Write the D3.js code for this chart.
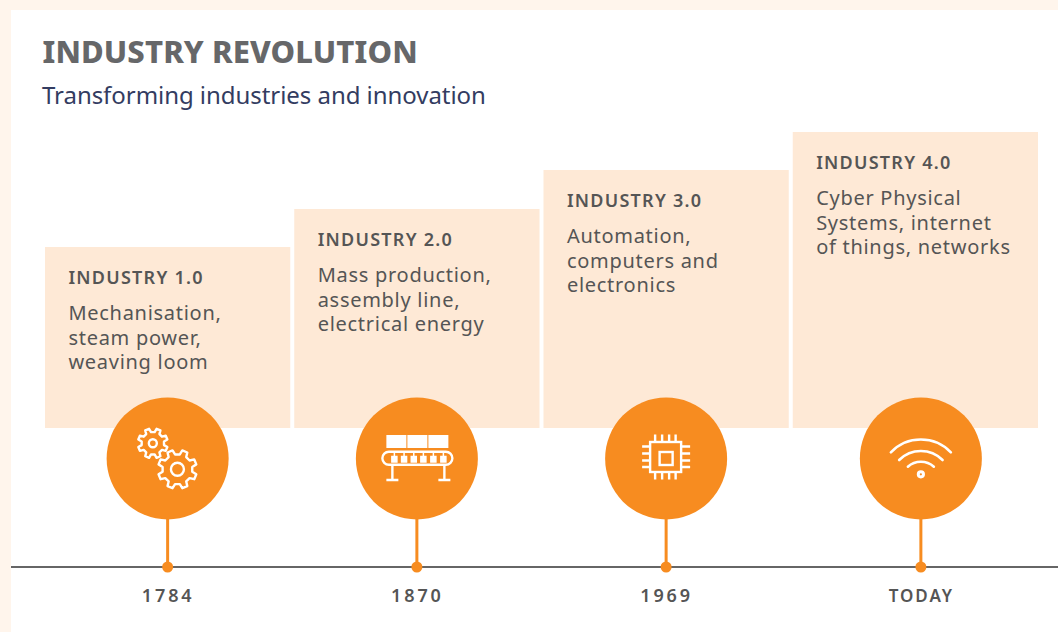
<!DOCTYPE html>
<html>
<head>
<meta charset="utf-8">
<script src="https://cdn.jsdelivr.net/npm/d3@7"></script>
<style>
  html, body { margin: 0; padding: 0; background: #fff5ec; overflow: hidden; }
  text { font-family: "Noto Sans", sans-serif; }
</style>
</head>
<body>
<div id="chart"></div>
<script>
// chart values
let eras = ["INDUSTRY 1.0", "INDUSTRY 2.0", "INDUSTRY 3.0", "INDUSTRY 4.0"];
let dates = ["1784", "1870", "1969", "TODAY"];
let levels = [181, 219, 258, 296];
let descriptions = [
  ["Mechanisation,", "steam power,", "weaving loom"],
  ["Mass production,", "assembly line,", "electrical energy"],
  ["Automation,", "computers and", "electronics"],
  ["Cyber Physical", "Systems, internet", "of things, networks"]
];

let orange = "#f78c20";
let textGrey = "#555555";
let width = 1058, height = 632;
let circleY = 458.5, axisY = 567, circleR = 61;

let svg = d3.select("#chart").append("svg")
  .attr("width", width)
  .attr("height", height)
  .style("display", "block");

svg.append("rect").attr("x", 11).attr("y", 10)
  .attr("width", width - 11).attr("height", height - 10).attr("fill", "#fff");

svg.append("text").attr("x", 42.5).attr("y", 63)
  .attr("font-size", 31).attr("font-weight", 800).attr("letter-spacing", 0.1).attr("fill", "#666769")
  .text("INDUSTRY REVOLUTION");
svg.append("text").attr("x", 42).attr("y", 104)
  .attr("font-size", 24).attr("letter-spacing", -0.05).attr("fill", "#333c61")
  .text("Transforming industries and innovation");

// Add scales
let x = d3.scaleBand().domain(eras).range([45, 1038]).paddingInner(0.016);
let y = d3.scaleLinear().domain([0, 296]).range([428, 132]);

// the last marker sits a little right of its card's centre
function markerX(i) {
  return x(eras[i]) + x.bandwidth() / 2 + (i == 3 ? 5.5 : 0);
}

// Cards
let cards = svg.append("g").selectAll("g")
  .data(eras)
  .enter().append("g")
  .attr("transform", (d, i) => "translate(" + x(d) + "," + y(levels[i]) + ")");

cards.append("rect")
  .attr("width", x.bandwidth())
  .attr("height", (d, i) => y(0) - y(levels[i]))
  .attr("fill", "#fee9d6");

cards.append("text")
  .attr("x", 23.4).attr("y", 36.5)
  .attr("font-size", 18).attr("font-weight", 600).attr("letter-spacing", 1.25)
  .attr("fill", textGrey)
  .text(d => d);

cards.each(function(d, i) {
  d3.select(this).selectAll(".line")
    .data(descriptions[i])
    .enter().append("text")
    .attr("class", "line")
    .attr("x", 23.4)
    .attr("y", (l, j) => 73 + j * 24.7)
    .attr("font-size", 20)
    .attr("letter-spacing", 0.72)
    .attr("fill", textGrey)
    .text(l => l);
});

// Axis line
svg.append("line")
  .attr("x1", 11).attr("x2", width)
  .attr("y1", axisY).attr("y2", axisY)
  .attr("stroke", "#666")
  .attr("stroke-width", 2);

// Markers
let markers = svg.append("g").selectAll("g")
  .data(dates)
  .enter().append("g")
  .attr("transform", (d, i) => "translate(" + markerX(i) + ",0)");

markers.append("line")
  .attr("y1", circleY).attr("y2", axisY)
  .attr("stroke", orange).attr("stroke-width", 3);
markers.append("circle")
  .attr("cy", axisY).attr("r", 5.5).attr("fill", orange);
markers.append("circle")
  .attr("cy", circleY).attr("r", circleR).attr("fill", orange);
markers.append("text")
  .attr("x", 0.5).attr("y", 601.5).attr("text-anchor", "middle")
  .attr("font-size", d => d == "TODAY" ? 17 : 18)
  .attr("font-weight", 600)
  .attr("letter-spacing", d => d == "TODAY" ? 2 : 2.9)
  .attr("fill", textGrey)
  .text(d => d);

// Icons, all drawn relative to the circle centre
function gearPath(cx, cy, outer, root, teeth) {
  let p = d3.path();
  let step = 2 * Math.PI / teeth;
  for (let i = 0; i < teeth; i++) {
    let a = i * step - Math.PI / 2 + step / 2;
    let pts = [[root, -0.27], [outer, -0.16], [outer, 0.16], [root, 0.27]];
    pts.forEach((q, k) => {
      let ang = a + q[1] * step * 1.1;
      let px = cx + q[0] * Math.cos(ang), py = cy + q[0] * Math.sin(ang);
      if (i == 0 && k == 0) p.moveTo(px, py); else p.lineTo(px, py);
    });
  }
  p.closePath();
  return p.toString();
}

function iconGroup(i) {
  return svg.append("g")
    .attr("transform", "translate(" + markerX(i) + "," + circleY + ")")
    .attr("fill", "none").attr("stroke", "#fff").attr("stroke-width", 2.4);
}

// gears
let gears = iconGroup(0);
gears.append("path").attr("d", gearPath(-14.8, -15.2, 15, 11.3, 8)).attr("stroke-linejoin", "round");
gears.append("circle").attr("cx", -14.8).attr("cy", -15.2).attr("r", 4);
gears.append("path").attr("d", gearPath(9.8, 10.8, 19.5, 15, 8)).attr("stroke-linejoin", "round");
gears.append("circle").attr("cx", 9.8).attr("cy", 10.8).attr("r", 6.5);

// conveyor belt
let belt = iconGroup(1);
belt.selectAll(".box").data([-30.5, -9.5, 11.5]).enter().append("rect")
  .attr("x", d => d).attr("y", -23.5).attr("width", 20).attr("height", 13)
  .attr("fill", "#fff").attr("stroke", "none");
belt.append("rect").attr("x", -34.5).attr("y", -6.8)
  .attr("width", 70).attr("height", 13).attr("rx", 6.5);
belt.selectAll(".item").data([-25, -15.3, -5.6, 4, 14, 24]).enter().append("path")
  .attr("d", d => "M" + (d + 2.5) + ",-6.8V-2M" + d + ",-2h5v5.5h-5z")
  .attr("fill", "#fff").attr("stroke-width", 1.5);
belt.append("path").attr("d", "M-24.5,6.2V21.5M27.5,6.2V21.5M-30.5,21.5H-18.5M21.5,21.5H33.5");

// chip
let chip = iconGroup(2);
chip.append("rect").attr("x", -16).attr("y", -16.5).attr("width", 31).attr("height", 30);
chip.append("rect").attr("x", -6.5).attr("y", -6.5).attr("width", 13).attr("height", 13);
let pins = [-10.5, -3.5, 3.5, 10];
chip.selectAll(".pinv").data(pins).enter().append("path")
  .attr("d", d => "M" + (d - 0.5) + ",-24V-16.5M" + (d - 0.5) + ",13.5V21");
chip.selectAll(".pinh").data(pins).enter().append("path")
  .attr("d", d => "M-24,"+ (d - 1.5) + "H-16M15," + (d - 1.5) + "H24");

// wifi: half chord, end height, radius of each arc
let wifi = iconGroup(3);
[[30, -6.2, 41.5], [21.7, 1.5, 30.7], [13, 8.2, 19.4]].forEach(a => {
  wifi.append("path")
    .attr("d", "M" + (-a[0]) + "," + a[1] + "A" + a[2] + "," + a[2] + " 0 0 1 " + a[0] + "," + a[1])
    .attr("stroke-width", 2.6).attr("stroke-linecap", "round");
});
wifi.append("circle").attr("cy", 15.8).attr("r", 2.6).attr("stroke-width", 3);
</script>
</body>
</html>
